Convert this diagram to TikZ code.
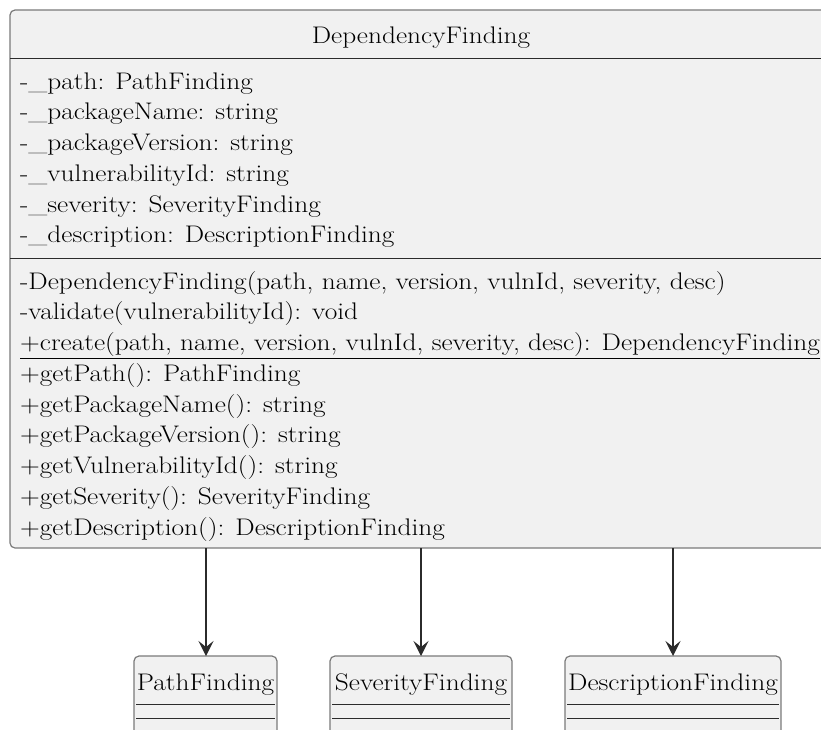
\documentclass[tikz,border=0pt]{standalone}
\usepackage{fontspec}
\setmainfont{Latin Modern Roman}[FakeStretch=1.14]
\usetikzlibrary{arrows.meta}
\definecolor{classfill}{HTML}{F1F1F1}
\definecolor{classborder}{HTML}{7A7A7A}
\definecolor{rule}{HTML}{2B2B2B}
\tikzset{
  umlfont/.style={font=\fontsize{24}{28}\selectfont},
  txt/.style={anchor=base west, inner sep=0pt, umlfont},
  ttl/.style={anchor=base, inner sep=0pt, umlfont},
  classbox/.style={draw=classborder, fill=classfill, line width=1.2pt, rounded corners=5pt},
  sep/.style={draw=rule, line width=1pt},
  assoc/.style={draw=rule, line width=1.5pt, -{Stealth[length=15pt,width=15pt,inset=6pt]}}
}
\begin{document}
\begin{tikzpicture}[x=1pt,y=-1pt]
\useasboundingbox (0,0) rectangle (821,729);
\clip (0,0) rectangle (821,729);

% DependencyFinding class
\path[classbox] (10,10) rectangle (834,548);
\draw[sep] (10,58) -- (834,58);
\draw[sep] (10,258) -- (834,258);
\node[ttl] (title) at (421,43) {DependencyFinding};

\node[txt] (a1) at (20,89)     {-\_path: PathFinding};
\node[txt] (a2) at (20,119.75) {-\_packageName: string};
\node[txt] (a3) at (20,150.5)  {-\_packageVersion: string};
\node[txt] (a4) at (20,181.25) {-\_vulnerabilityId: string};
\node[txt] (a5) at (20,212)    {-\_severity: SeverityFinding};
\node[txt] (a6) at (20,242.75) {-\_description: DescriptionFinding};

\node[txt] (m1) at (20,289)    {-DependencyFinding(path, name, version, vulnId, severity, desc)};
\node[txt] (m2) at (20,319.75) {-validate(vulnerabilityId): void};
\node[txt] (m3) at (20,350.5)  {\underline{+create(path, name, version, vulnId, severity, desc): DependencyFinding}};
\node[txt] (m4) at (20,381.25) {+getPath(): PathFinding};
\node[txt] (m5) at (20,412)    {+getPackageName(): string};
\node[txt] (m6) at (20,442.75) {+getPackageVersion(): string};
\node[txt] (m7) at (20,473.5)  {+getVulnerabilityId(): string};
\node[txt] (m8) at (20,504.25) {+getSeverity(): SeverityFinding};
\node[txt] (m9) at (20,535)    {+getDescription(): DescriptionFinding};

% Referenced classes
\path[classbox] (134,656) rectangle (277,760);
\draw[sep] (136,704) -- (275,704);
\draw[sep] (136,718) -- (275,718);
\node[ttl] (path) at (205.5,690) {PathFinding};

\path[classbox] (330,656) rectangle (512,760);
\draw[sep] (332,704) -- (510,704);
\draw[sep] (332,718) -- (510,718);
\node[ttl] (sev) at (421,690) {SeverityFinding};

\path[classbox] (565,656) rectangle (781,760);
\draw[sep] (567,704) -- (779,704);
\draw[sep] (567,718) -- (779,718);
\node[ttl] (desc) at (673,690) {DescriptionFinding};

% Associations
\coordinate (s1) at (206,548);
\coordinate (t1) at (206,656);
\coordinate (s2) at (421,548);
\coordinate (t2) at (421,656);
\coordinate (s3) at (673,548);
\coordinate (t3) at (673,656);
\draw[assoc] (s1) -- (t1);
\draw[assoc] (s2) -- (t2);
\draw[assoc] (s3) -- (t3);
\end{tikzpicture}
\end{document}
